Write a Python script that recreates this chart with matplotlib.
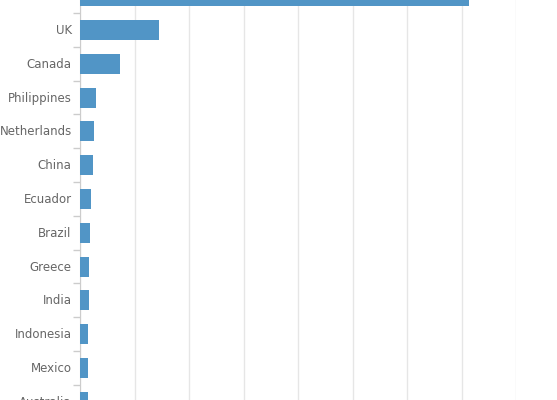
import matplotlib.pyplot as plt
import matplotlib.transforms as mtransforms
import numpy as np

# Data (values in thousands)
countries = ['USA', 'UK', 'Canada', 'Philippines', 'Netherlands', 'China',
             'Ecuador', 'Brazil', 'Greece', 'India', 'Indonesia', 'Mexico',
             'Australia']
values = [7.14, 1.45, 0.73, 0.29, 0.26, 0.24, 0.20, 0.18, 0.165, 0.165,
          0.147, 0.147, 0.147]

W, H = 557, 400
fig = plt.figure(figsize=(W / 100, H / 100), dpi=100)

# plot area runs past the top and bottom edges (chart is cropped)
band = 33.8
top_px = 30 - band - band / 2
bot_px = top_px + band * len(countries)
left_px, right_px = 80, 516
ax = fig.add_axes([left_px / W, (H - bot_px) / H,
                   (right_px - left_px) / W, (bot_px - top_px) / H])

y = np.arange(len(countries))
ax.barh(y, values, height=0.59, color='#5195c6', zorder=3)

ax.set_xlim(0, 8)
ax.set_ylim(len(countries) - 0.5, -0.5)
ax.set_xticks(np.arange(0, 9, 1))
ax.set_xticklabels([])
ax.grid(axis='x', color='#e6e6e6', linewidth=1, zorder=0)

ax.set_yticks(y)
ax.set_yticklabels(countries, fontsize=8.5, color='#666666', family='DejaVu Sans')
ax.set_yticks(np.arange(-0.5, len(countries), 1), minor=True)
ax.tick_params(axis='y', which='major', length=0, pad=6)
ax.tick_params(axis='y', which='minor', length=5, color='#cccccc', width=1)
ax.tick_params(axis='x', length=0)

# nudge labels up a little
shift = mtransforms.ScaledTranslation(0, 1 / 100, fig.dpi_scale_trans)
for lab in ax.get_yticklabels():
    lab.set_transform(lab.get_transform() + shift)

for s in ['top', 'right', 'bottom']:
    ax.spines[s].set_visible(False)
ax.spines['left'].set_color('#cccccc')

fig.savefig('out.png', dpi=100)
